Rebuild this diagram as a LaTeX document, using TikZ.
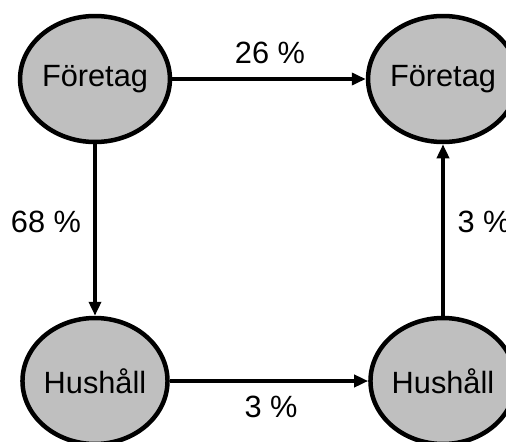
\documentclass[tikz,border=0pt]{standalone}
\usepackage{fontspec}
\setmainfont{Liberation Sans}
\usetikzlibrary{shapes.geometric,arrows.meta}
\tikzset{
  sector/.style={ellipse,draw,line width=0.09cm,fill=black!25,minimum width=2.72cm,minimum height=2.52cm,inner sep=0pt,font=\fontsize{17.5}{20}\selectfont},
  flow/.style={line width=0.09cm,-{Triangle[length=0.28cm,width=0.24cm]}},
  share/.style={font=\fontsize{17.5}{20}\selectfont}
}
\begin{document}
\begin{tikzpicture}
            \useasboundingbox (0,0) rectangle (10.12,8.82);
            % Circles
            \node [sector] (f1) at (1.9,7.24) {Företag};
            \node [sector] (f2) at (8.86,7.24) {Företag};
            \node [sector] (h1) at (1.9,1.2) {Hushåll};
            \node [sector] (h2) at (8.86,1.2) {Hushåll};

            % Flows
            \draw [flow] (f1) -- (f2);
            \draw [flow] (f1) -- (h1);
            \draw [flow] (h1) -- (h2);
            \draw [flow] (h2) -- (f2);

            \node [share] (s26) at (5.4,7.77) {26 \%};
            \node [share] (s68) at (0.92,4.38) {68 \%};
            \node [share] (s3a) at (9.68,4.38) {3 \%};
            \node [share] (s3b) at (5.42,0.68) {3 \%};
        \end{tikzpicture}
\end{document}
